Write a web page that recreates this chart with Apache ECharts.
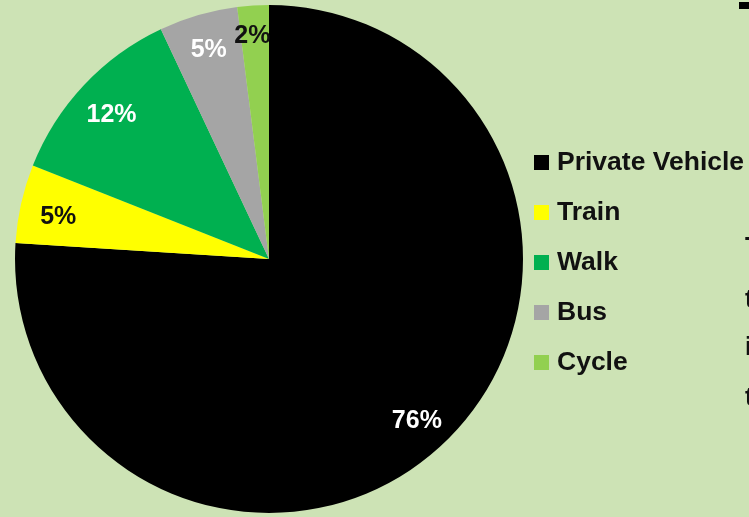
<!DOCTYPE html>
<html>
<head>
<meta charset="utf-8">
<script src="https://cdn.jsdelivr.net/npm/echarts@6/dist/echarts.min.js"></script>
<style>
	html, body { margin: 0; padding: 0; background: #cde3b5; }
	#chart { width: 749px; height: 517px; }
</style>
</head>
<body>
<div id="chart"></div>
<script>
var modes = ['Private Vehicle', 'Train', 'Walk', 'Bus', 'Cycle'];
var shares = [76, 5, 12, 5, 2];
var colors = ['#000000', '#ffff00', '#00b050', '#a5a5a5', '#92d050'];
var labelColors = ['#ffffff', '#111111', '#ffffff', '#ffffff', '#111111'];
// cut-off text from the slide next to the chart
var edgeLetters = ['T', 't', 'i', 't'];
var edgeY = [250, 302, 350, 400];

var chart = echarts.init(document.getElementById('chart'));
var font = '"Liberation Sans", Arial, sans-serif';
// small nudges, the excel labels are not all on one ring
var labelNudge = [[0, 5], [0, 5], [0, 4], [0, -1], [-3, -7]];

var pieData = modes.map(function(m, i) {
	return { name: m, value: shares[i], itemStyle: { color: colors[i] } };
});
// transparent ring on top, only for putting the labels near the rim
var labelData = modes.map(function(m, i) {
	return {
		name: m,
		value: shares[i],
		label: { color: labelColors[i], offset: labelNudge[i] }
	};
});

var graphics = [{
	type: 'rect',
	shape: { x: 739, y: 2, width: 12, height: 7 },
	style: { fill: '#000000' }
}];
edgeLetters.forEach(function(t, i) {
	graphics.push({
		type: 'text',
		left: 745,
		top: edgeY[i] - 14,
		style: { text: t, font: 'bold 25px ' + font, fill: '#111111' }
	});
});

var option = {
	backgroundColor: '#cde3b5',
	animation: false,
	legend: {
		orient: 'vertical',
		left: 534,
		top: 149,
		padding: 0,
		itemWidth: 15,
		itemHeight: 15,
		itemGap: 23,
		icon: 'rect',
		selectedMode: false,
		data: modes,
		textStyle: {
			fontFamily: font,
			fontWeight: 'bold',
			fontSize: 26.5,
			lineHeight: 25,
			color: '#111111',
			padding: [0, 0, 0, 3]
		}
	},
	graphic: graphics,
	series: [{
		type: 'pie',
		center: [269, 259],
		radius: [0, 254],
		startAngle: 90,
		clockwise: true,
		silent: true,
		label: { show: false },
		labelLine: { show: false },
		itemStyle: { borderWidth: 0 },
		data: pieData
	}, {
		type: 'pie',
		center: [269, 259],
		radius: [172, 254],
		startAngle: 90,
		clockwise: true,
		silent: true,
		itemStyle: { color: 'rgba(0,0,0,0)', borderWidth: 0 },
		label: {
			show: true,
			position: 'inside',
			formatter: '{c}%',
			fontFamily: font,
			fontWeight: 'bold',
			fontSize: 25
		},
		labelLine: { show: false },
		data: labelData
	}]
};
chart.setOption(option);
</script>
</body>
</html>
